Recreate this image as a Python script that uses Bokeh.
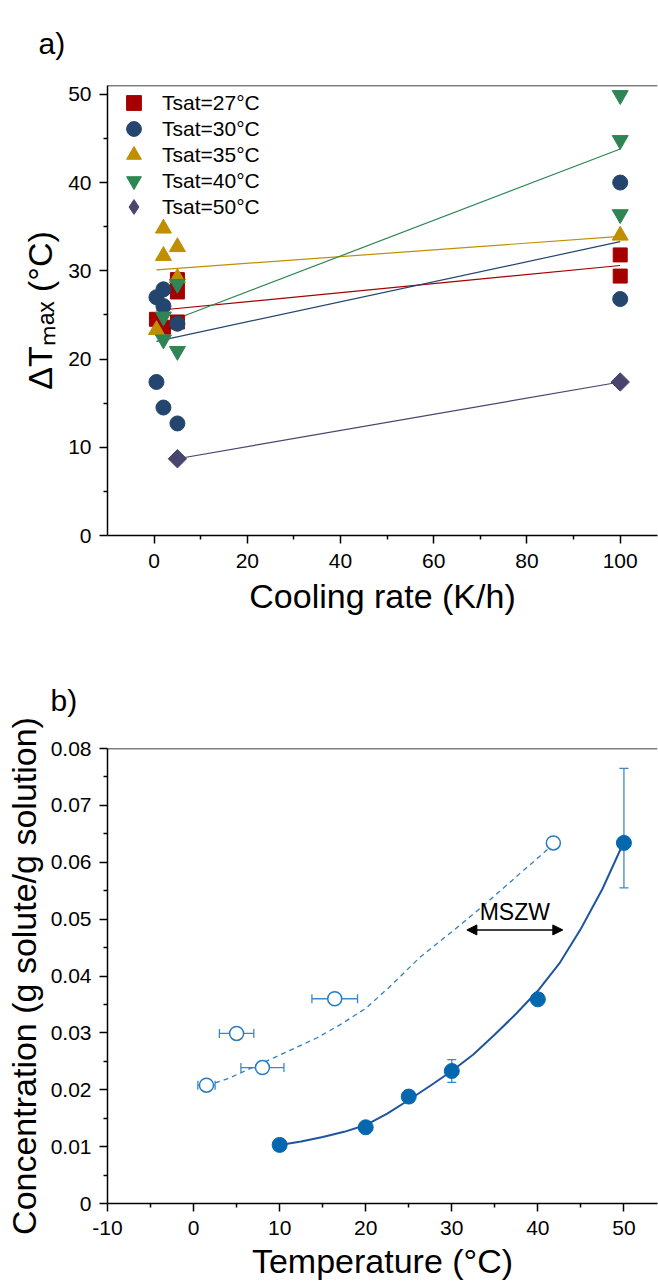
import math
from bokeh.plotting import figure
from bokeh.layouts import column
from bokeh.models import (Range1d, Label, Legend, LegendItem, Whisker, TeeHead, Arrow,
                          NormalHead, ColumnDataSource, FixedTicker, Span)
from bokeh.embed import file_html
from bokeh.resources import INLINE

FONT = "Liberation Sans"

# ---------------- Panel a) : maximum undercooling vs cooling rate ----------------
rate_27 = [0.5, 2, 5, 5, 5, 100, 100]
dT_27 = [24.5, 23.6, 29.0, 27.6, 24.2, 31.8, 29.4]
rate_30 = [0.5, 0.5, 2, 2, 2, 5, 5, 100, 100]
dT_30 = [27.0, 17.4, 27.9, 26.0, 14.5, 24.0, 12.7, 40.0, 26.8]
rate_35 = [0.5, 2, 2, 5, 5, 100]
dT_35 = [23.3, 34.8, 31.7, 32.7, 29.2, 34.0]
rate_40 = [2, 2, 5, 5, 100, 100, 100]
dT_40 = [24.8, 22.2, 28.5, 20.9, 49.9, 44.8, 36.4]
rate_50 = [5, 100]
dT_50 = [8.7, 17.4]

fit_rate_27 = [0.5, 100]
fit_dT_27 = [25.5, 30.6]
fit_rate_30 = [0.5, 100]
fit_dT_30 = [22.0, 33.3]
fit_rate_35 = [0.5, 100]
fit_dT_35 = [30.1, 33.9]
fit_rate_40 = [2, 100]
fit_dT_40 = [24.0, 43.8]
fit_rate_50 = [5, 100]
fit_dT_50 = [8.7, 17.4]

series_labels = ["Tsat=27°C", "Tsat=30°C", "Tsat=35°C", "Tsat=40°C", "Tsat=50°C"]
x_ticks_a = [0, 20, 40, 60, 80, 100]
y_ticks_a = [0, 10, 20, 30, 40, 50]

# ---------------- Panel b) : solubility and metastable limit ----------------
sol_T = [10, 20, 25, 30, 40, 50]
sol_C = [0.0103, 0.0134, 0.0188, 0.0233, 0.0359, 0.0634]
sol_err_low = [0, 0, 0, 0.0020, 0, 0.0079]
sol_err_high = [0, 0, 0, 0.0020, 0, 0.0131]

met_T = [1.5, 5.0, 8.0, 16.4, 41.8]
met_C = [0.0208, 0.0299, 0.0239, 0.0360, 0.0634]
met_T_err = [1.0, 2.0, 2.5, 2.65, 0]

sol_fit_T = [10, 12.5, 15, 17.5, 20, 22.5, 25, 27.5, 30, 32.5, 35, 37.5, 40, 42.5, 45, 47.5, 50]
sol_fit_C = [0.0103, 0.0109, 0.0117, 0.0126, 0.0138, 0.0158, 0.0182, 0.0207, 0.0233,
             0.0262, 0.0297, 0.0334, 0.0374, 0.0422, 0.0483, 0.0553, 0.0636]
met_fit_T = [1.5, 3.9, 5.8, 9.3, 11.6, 14.3, 17, 20, 23, 26.3, 30.2, 33.7, 37.9, 41.4]
met_fit_C = [0.0207, 0.0219, 0.0232, 0.0256, 0.0272, 0.0291, 0.0314, 0.0343, 0.0384,
             0.0433, 0.0480, 0.0524, 0.0580, 0.0626]

mszw_T = [31.75, 42.9]
mszw_C = 0.0481
x_ticks_b = [-10, 0, 10, 20, 30, 40, 50]
y_ticks_b = [0, 0.01, 0.02, 0.03, 0.04, 0.05, 0.06, 0.07, 0.08]

C27, C30, C35, C40, C50 = "#A40000", "#24456D", "#BF8F00", "#2D8653", "#48466F"
FILLED = "#0568AF"
OPEN = "#2B7CBE"
ERR = "#3D88C6"
SOLID = "#1F55A0"
DASH = "#2F80C2"


def style_axes(p):
    for ax in list(p.xaxis) + list(p.yaxis):
        ax.axis_line_width = 1.5
        ax.axis_line_color = "black"
        ax.major_tick_line_width = 1.5
        ax.minor_tick_line_width = 1.5
        ax.major_tick_line_color = "black"
        ax.minor_tick_line_color = "black"
        ax.major_tick_out = 8
        ax.major_tick_in = 0
        ax.minor_tick_out = 4
        ax.minor_tick_in = 0
        ax.major_label_text_font = FONT
        ax.major_label_text_font_size = "21px"
        ax.major_label_text_color = "black"
        ax.major_label_standoff = 8
        ax.axis_label_text_font = FONT
        ax.axis_label_text_font_size = "34px"
        ax.axis_label_text_font_style = "normal"
        ax.axis_label_text_color = "black"
    p.grid.visible = False
    p.outline_line_color = None
    p.background_fill_color = "white"
    p.border_fill_color = "white"
    p.title.text_font = FONT
    p.title.text_font_size = "30px"
    p.title.text_font_style = "normal"
    p.title.text_color = "black"
    p.title.align = "left"
    p.title.vertical_align = "top"


# ================= figure a =================
p1 = figure(width=658, height=640, x_range=Range1d(-10, 108), y_range=Range1d(0, 51),
            output_backend="svg", toolbar_location=None, title="a)",
            min_border_left=107, min_border_right=1, min_border_top=85, min_border_bottom=105)
style_axes(p1)
p1.title.offset = -69
p1.title.standoff = 48
p1.xaxis.ticker = FixedTicker(ticks=x_ticks_a, minor_ticks=[10, 30, 50, 70, 90])
p1.yaxis.ticker = FixedTicker(ticks=y_ticks_a, minor_ticks=[5, 15, 25, 35, 45])
p1.xaxis.axis_label = "Cooling rate (K/h)"
p1.yaxis.axis_label = "ΔTₘₐₓ (°C)"
p1.xaxis.major_label_standoff = 10
p1.xaxis.axis_label_standoff = 6
p1.yaxis.axis_label_standoff = 6
p1.add_layout(Span(location=51, dimension="width", line_color="black", line_width=1.5))

for fx, fy, c in [(fit_rate_27, fit_dT_27, C27), (fit_rate_30, fit_dT_30, C30),
                  (fit_rate_35, fit_dT_35, C35), (fit_rate_40, fit_dT_40, C40),
                  (fit_rate_50, fit_dT_50, C50)]:
    p1.line(fx, fy, line_color=c, line_width=1.2)

r27 = p1.scatter(rate_27, dT_27, marker="square", size=14, fill_color=C27, line_color=C27)
r30 = p1.scatter(rate_30, dT_30, marker="circle", size=15, fill_color=C30, line_color=C30)
r35 = p1.scatter(rate_35, dT_35, marker="triangle", size=16, fill_color=C35, line_color=C35)
r40 = p1.scatter(rate_40, dT_40, marker="inverted_triangle", size=16, fill_color=C40, line_color=C40)
# key symbol for the rotated-square series (legend glyphs ignore rotation);
# it sits underneath the real markers and is hidden by them
r50_key = p1.scatter(rate_50, dT_50, marker="diamond", size=12, fill_color=C50, line_color=C50)
r50 = p1.scatter(rate_50, dT_50, marker="square", angle=math.pi / 4, size=13,
                 fill_color=C50, line_color=C50)

renderers_a = [r27, r30, r35, r40, r50_key]


def make_legend(idx, loc):
    return Legend(items=[LegendItem(label=series_labels[i], renderers=[renderers_a[i]]) for i in idx],
                  location=loc, orientation="vertical",
                  glyph_width=37, glyph_height=37, spacing=15, padding=0, margin=0,
                  label_standoff=10, label_text_font=FONT, label_text_font_size="21px",
                  label_text_color="black", label_text_baseline="middle",
                  border_line_color=None, background_fill_alpha=0)


# two interleaved legends give the tight row pitch of the original key
p1.add_layout(make_legend([0, 2, 4], (8, 310)))
p1.add_layout(make_legend([1, 3], (8, 336)))

# ================= figure b =================
p2 = figure(width=658, height=643, x_range=Range1d(-10, 53.9), y_range=Range1d(0, 0.08),
            output_backend="svg", toolbar_location=None, title="b)",
            min_border_left=107, min_border_right=1, min_border_top=108, min_border_bottom=80)
style_axes(p2)
p2.title.offset = -57
p2.title.standoff = 60
p2.xaxis.ticker = FixedTicker(ticks=x_ticks_b, minor_ticks=[-5, 5, 15, 25, 35, 45])
p2.yaxis.ticker = FixedTicker(ticks=y_ticks_b,
                              minor_ticks=[0.005, 0.015, 0.025, 0.035, 0.045, 0.055, 0.065, 0.075])
p2.yaxis.major_label_overrides = {0: "0"}
p2.xaxis.major_label_overrides = {-10: "-10"}
p2.xaxis.axis_label = "Temperature (°C)"
p2.yaxis.axis_label = "Concentration (g solute/g solution)"
p2.xaxis.major_label_standoff = 9
p2.xaxis.axis_label_standoff = 4
p2.yaxis.axis_label_standoff = 5
p2.add_layout(Span(location=0.08, dimension="width", line_color="black", line_width=1.5))

p2.line(met_fit_T, met_fit_C, line_color=DASH, line_width=1.3, line_dash="5 4")
p2.line(sol_fit_T, sol_fit_C, line_color=SOLID, line_width=2)

sol_src = ColumnDataSource(dict(
    T=sol_T, C=sol_C,
    lo=[c - e for c, e in zip(sol_C, sol_err_low)],
    hi=[c + e for c, e in zip(sol_C, sol_err_high)]))
met_src = ColumnDataSource(dict(
    T=met_T, C=met_C,
    lo=[t - e for t, e in zip(met_T, met_T_err)],
    hi=[t + e for t, e in zip(met_T, met_T_err)]))

p2.add_layout(Whisker(source=sol_src, base="T", lower="lo", upper="hi", dimension="height",
                      line_color=ERR, line_width=1.3,
                      upper_head=TeeHead(size=9, line_color=ERR, line_width=1.3),
                      lower_head=TeeHead(size=9, line_color=ERR, line_width=1.3)))
p2.add_layout(Whisker(source=met_src, base="C", lower="lo", upper="hi", dimension="width",
                      line_color=ERR, line_width=1.3,
                      upper_head=TeeHead(size=9, line_color=ERR, line_width=1.3),
                      lower_head=TeeHead(size=9, line_color=ERR, line_width=1.3)))

p2.scatter("T", "C", source=sol_src, marker="circle", size=15, fill_color=FILLED, line_color=FILLED)
p2.scatter("T", "C", source=met_src, marker="circle", size=14, fill_color="white",
           line_color=OPEN, line_width=1.5)

p2.add_layout(Arrow(x_start=mszw_T[0], y_start=mszw_C, x_end=mszw_T[1], y_end=mszw_C,
                    line_color="black", line_width=1.5,
                    start=NormalHead(size=10, fill_color="black", line_color="black"),
                    end=NormalHead(size=10, fill_color="black", line_color="black")))
p2.add_layout(Label(x=sum(mszw_T) / 2, y=0.0512, text="MSZW", text_font=FONT,
                    text_color="black", text_font_size="23px", text_align="center",
                    text_baseline="alphabetic"))

layout = column(p1, p2, spacing=0)
open("out.html", "w").write(file_html(layout, INLINE))
